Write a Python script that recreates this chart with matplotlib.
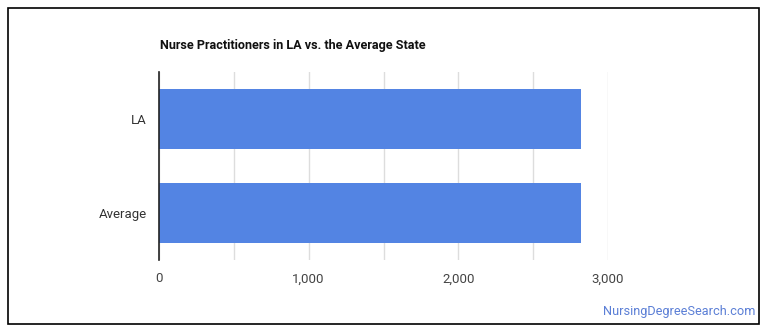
import matplotlib.pyplot as plt
from matplotlib.patches import Rectangle
from matplotlib.ticker import FuncFormatter, MultipleLocator

plt.rcParams['font.family'] = ['Roboto', 'DejaVu Sans']

# data
categories = ["LA", "Average"]
values = [2820, 2820]
title = "Nurse Practitioners in LA vs. the Average State"

fig = plt.figure(figsize=(7.7, 3.35), dpi=100)
ax = fig.add_axes([159 / 770, 1 - 260 / 335, (608 - 159) / 770, (260 - 72) / 335])

ypos = list(range(len(categories)))
ax.barh(ypos, values, height=0.64, color="#5384e3", zorder=3)
ax.set_yticks(ypos)
ax.set_yticklabels(categories)
ax.set_ylim(len(categories) - 0.5, -0.5)

ax.set_xlim(0, 3000)
ax.xaxis.set_major_locator(MultipleLocator(1000))
ax.xaxis.set_minor_locator(MultipleLocator(500))
ax.xaxis.set_major_formatter(FuncFormatter(lambda v, p: f"{int(v):,}"))
ax.grid(axis="x", which="both", color="#dddddd", linewidth=1, zorder=0)

for s in ["top", "right", "bottom"]:
    ax.spines[s].set_visible(False)
ax.spines["left"].set_color("#222222")
ax.spines["left"].set_linewidth(1.2)
ax.spines["left"].set_zorder(4)

ax.tick_params(axis="y", length=0, pad=9, labelsize=9.5, labelcolor="#333333")
ax.tick_params(axis="x", which="both", length=0, pad=9, labelsize=9.5, labelcolor="#444444")

fig.text(160 / 770, 1 - 45 / 335, title, fontsize=9.1, fontweight="bold",
         color="#111111", ha="left", va="center")
fig.text(755 / 770, 1 - 312 / 335, "NursingDegreeSearch.com", fontsize=9.2,
         color="#5b7fd6", ha="right", va="center")

fig.patches.append(Rectangle((8 / 770, 1 - 324 / 335), (759 - 8) / 770, (324 - 8) / 335,
                             transform=fig.transFigure, fill=False,
                             edgecolor="black", linewidth=1.2))

fig.savefig("out.png", dpi=100)
